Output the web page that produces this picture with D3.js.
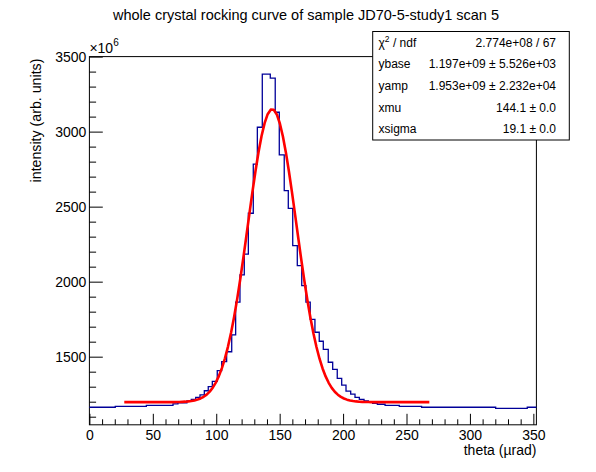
<!DOCTYPE html>
<html>
<head>
<meta charset="utf-8">
<script src="https://cdn.jsdelivr.net/npm/d3@7"></script>
<style>
  body { margin: 0; background: #fff; }
  svg { display: block; }
  text { font-family: "Liberation Sans", Arial, Helvetica, sans-serif; }
</style>
</head>
<body>
<svg id="chart" width="596" height="472"></svg>
<script>
// histogram bins (theta in urad), contents in units of 1e6
const binEdges = [0, 20.4, 44.9, 65.9, 69.8, 76.9, 80.3, 83.8, 87.2, 90.6, 93.7, 96.9,
  100.8, 104.3, 108.2, 112.2, 115.3, 118.7, 122.1, 125.3, 129.2, 132.4, 136.3, 139.5,
  142.6, 146.5, 149.7, 153.6, 156.8, 160.3, 163.9, 167.4, 170.7, 174.1, 177.8, 181.2,
  184.4, 188.3, 191.8, 195.4, 198.9, 202.3, 206.0, 209.4, 212.8, 216.5, 219.9, 223.3,
  227.0, 233.1, 244.3, 261.9, 320.3, 345.2, 352.4]
const binValues = [1163, 1169, 1176, 1185, 1193, 1205, 1216, 1229, 1245, 1273,
  1300, 1335, 1407, 1467, 1533, 1645, 1863, 2045, 2183, 2456,
  2783, 3029, 3383, 3383, 3356, 3129, 2845, 2607, 2489, 2240,
  2107, 1973, 1863, 1749, 1663, 1603, 1549, 1463, 1416, 1356,
  1311, 1271, 1251, 1229, 1216, 1205, 1196, 1189, 1183, 1176,
  1169, 1163, 1156, 1163]

// gaussian fit: ybase, yamp, xmu, xsigma (from the stats box)
const fitParams = [1197, 1953, 144.1, 19.1]
const fitRange = [27.5, 268]

const xDomain = [0, 352.4]
const yDomain = [1046, 3500]
const xMajorTicks = [0, 50, 100, 150, 200, 250, 300, 350]
const yMajorTicks = [1500, 2000, 2500, 3000, 3500]

const statLabels = ['ndf', 'ybase', 'yamp', 'xmu', 'xsigma']
const statValues = ['2.774e+08 / 67', '1.197e+09 \u00b1 5.526e+03', '1.953e+09 \u00b1 2.232e+04',
  '144.1 \u00b1 0.0', '19.1 \u00b1 0.0']

const titleText = 'whole crystal rocking curve of sample JD70-5-study1 scan 5'

const frame = { left: 89.4, right: 536.4, top: 56.6, bottom: 424.8 }
const svg = d3.select('#chart')

svg.append('rect')
  .attr('width', 596).attr('height', 472).attr('fill', '#fff')

const x = d3.scaleLinear().domain(xDomain).range([frame.left, frame.right])
const y = d3.scaleLinear().domain(yDomain).range([frame.bottom, frame.top])

// frame
svg.append('rect')
  .attr('x', frame.left).attr('y', frame.top)
  .attr('width', frame.right - frame.left).attr('height', frame.bottom - frame.top)
  .attr('fill', 'none').attr('stroke', '#000').attr('stroke-width', 1)

// histogram outline
const histPoints = binValues.map((v, i) => [binEdges[i], v])
histPoints.push([binEdges[binEdges.length - 1], binValues[binValues.length - 1]])

const stepLine = d3.line()
  .x(d => x(d[0]))
  .y(d => y(d[1]))
  .curve(d3.curveStepAfter)

svg.append('path')
  .attr('d', stepLine(histPoints))
  .attr('fill', 'none')
  .attr('stroke', '#000099')
  .attr('stroke-width', 1.3)

// fit function
const [ybase, yamp, xmu, xsigma] = fitParams
const fitX = d3.range(fitRange[0], fitRange[1], (fitRange[1] - fitRange[0]) / 100).concat([fitRange[1]])
const fitPoints = fitX.map(t => [t, ybase + yamp * Math.exp(-0.5 * Math.pow((t - xmu) / xsigma, 2))])

svg.append('path')
  .attr('d', d3.line().x(d => x(d[0])).y(d => y(d[1]))(fitPoints))
  .attr('fill', 'none')
  .attr('stroke', '#ff0000')
  .attr('stroke-width', 2.6)
  .attr('stroke-linejoin', 'round')

// axes
const xMinor = d3.range(0, 351, 10).filter(v => v % 50 !== 0)
const yMinor = d3.range(1100, 3500, 100).filter(v => v % 500 !== 0)

function styleAxis(g) {
  g.select('.domain').remove()
  g.selectAll('line').attr('stroke', '#000')
  g.selectAll('text')
    .attr('fill', '#000')
    .attr('font-size', 14)
    .attr('font-family', '"Liberation Sans", Arial, sans-serif')
}

svg.append('g')
  .attr('transform', `translate(0, ${frame.bottom})`)
  .call(d3.axisBottom(x).tickValues(xMinor).tickSize(-5.5).tickFormat(''))
  .call(styleAxis)

svg.append('g')
  .attr('transform', `translate(0, ${frame.bottom})`)
  .call(d3.axisBottom(x).tickValues(xMajorTicks).tickSize(-11).tickPadding(5).tickFormat(d3.format('d')))
  .call(styleAxis)

svg.append('g')
  .attr('transform', `translate(${frame.left}, 0)`)
  .call(d3.axisLeft(y).tickValues(yMinor).tickSize(-6.7).tickFormat(''))
  .call(styleAxis)

svg.append('g')
  .attr('transform', `translate(${frame.left}, 0)`)
  .call(d3.axisLeft(y).tickValues(yMajorTicks).tickSize(-13.4).tickPadding(3).tickFormat(d3.format('d')))
  .call(styleAxis)

// x10^6 exponent
const expo = svg.append('text')
  .attr('x', frame.left).attr('y', 53)
  .attr('font-size', 14)
expo.append('tspan').text('\u00d710')
expo.append('tspan').attr('dy', -7).attr('font-size', 10).text('6')

// axis titles
svg.append('text')
  .attr('x', frame.right).attr('y', 455)
  .attr('text-anchor', 'end')
  .attr('font-size', 14)
  .text('theta (\u00b5rad)')

svg.append('text')
  .attr('transform', `translate(41, ${frame.top + 2}) rotate(-90)`)
  .attr('text-anchor', 'end')
  .attr('font-size', 14.2)
  .text('intensity (arb. units)')

// title
svg.append('text')
  .attr('x', 306).attr('y', 20)
  .attr('text-anchor', 'middle')
  .attr('font-size', 14.5)
  .text(titleText)

// stats box
const box = { left: 372.7, right: 569.3, top: 31.5, bottom: 140 }
const rowH = (box.bottom - box.top) / statLabels.length

svg.append('rect')
  .attr('x', box.left).attr('y', box.top)
  .attr('width', box.right - box.left).attr('height', box.bottom - box.top)
  .attr('fill', '#fff').attr('stroke', '#000').attr('stroke-width', 1)

statLabels.forEach((lab, i) => {
  const cy = box.top + rowH * (i + 0.5) + 4.3
  const t = svg.append('text')
    .attr('x', 378.5).attr('y', cy)
    .attr('font-size', 12)
  if (i === 0) {
    t.append('tspan').text('\u03c7')
    t.append('tspan').attr('dy', -5).attr('font-size', 8.5).text('2')
    t.append('tspan').attr('dy', 5).text(' / ' + lab)
  } else {
    t.text(lab)
  }
  svg.append('text')
    .attr('x', 556).attr('y', cy)
    .attr('text-anchor', 'end')
    .attr('font-size', 12)
    .text(statValues[i])
})
</script>
</body>
</html>
